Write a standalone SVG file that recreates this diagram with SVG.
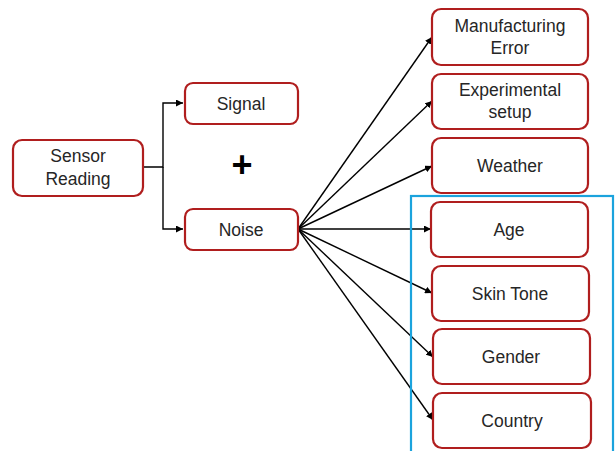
<svg xmlns="http://www.w3.org/2000/svg" width="616" height="451" viewBox="0 0 616 451">
<style>
.box{fill:#fff;stroke:#B01E1E;stroke-width:2.2}
.t{font-family:"Liberation Sans",Arial,sans-serif;font-size:17.5px;fill:#262626;text-anchor:middle}
.c{fill:none;stroke:#000;stroke-width:1.4}
</style>
<defs>
<marker id="ah" viewBox="0 0 10 10" refX="10" refY="5" markerWidth="7" markerHeight="7" markerUnits="userSpaceOnUse" orient="auto">
<path d="M0,0 L10,5 L0,10 z" fill="#000"/>
</marker>
</defs>
<rect width="616" height="451" fill="#fff"/>
<g id="connectors">
<path class="c" d="M143,167 H163 V103 H183" marker-end="url(#ah)"/>
<path class="c" d="M163,167 V229 H183" marker-end="url(#ah)"/>
<line class="c" x1="298" y1="229" x2="432" y2="37" marker-end="url(#ah)"/>
<line class="c" x1="298" y1="229" x2="432" y2="101" marker-end="url(#ah)"/>
<line class="c" x1="298" y1="229" x2="432" y2="166" marker-end="url(#ah)"/>
<line class="c" x1="298" y1="229" x2="431" y2="229" marker-end="url(#ah)"/>
<line class="c" x1="298" y1="229" x2="432" y2="293" marker-end="url(#ah)"/>
<line class="c" x1="298" y1="229" x2="433" y2="357" marker-end="url(#ah)"/>
<line class="c" x1="298" y1="229" x2="433" y2="420" marker-end="url(#ah)"/>
</g>
<g id="sensor"><rect class="box" x="13" y="140" width="130" height="56" rx="9"/><text class="t" x="78" y="162">Sensor</text><text class="t" x="78" y="185">Reading</text></g>
<g id="signal"><rect class="box" x="185" y="83" width="113" height="41" rx="8"/><text class="t" x="241" y="110">Signal</text></g>
<g id="noise"><rect class="box" x="185" y="209" width="113" height="41" rx="8"/><text class="t" x="241" y="236">Noise</text></g>
<g id="plus"><text x="242" y="177" style="font-family:'Liberation Sans',Arial,sans-serif;font-size:36px;font-weight:bold;fill:#000;text-anchor:middle">+</text></g>
<g id="manufacturing"><rect class="box" x="432" y="9" width="156" height="56" rx="9"/><text class="t" x="510" y="32">Manufacturing</text><text class="t" x="510" y="54">Error</text></g>
<g id="experimental"><rect class="box" x="432" y="74" width="156" height="55" rx="9"/><text class="t" x="510" y="96">Experimental</text><text class="t" x="510" y="118">setup</text></g>
<g id="weather"><rect class="box" x="432" y="138" width="156" height="55" rx="9"/><text class="t" x="510" y="172">Weather</text></g>
<g id="age"><rect class="box" x="431" y="202" width="157" height="55" rx="9"/><text class="t" x="509" y="236">Age</text></g>
<g id="skintone"><rect class="box" x="432" y="266" width="157" height="55" rx="9"/><text class="t" x="510" y="300">Skin Tone</text></g>
<g id="gender"><rect class="box" x="433" y="329" width="157" height="55" rx="9"/><text class="t" x="511" y="363">Gender</text></g>
<g id="country"><rect class="box" x="433" y="393" width="158" height="55" rx="9"/><text class="t" x="512" y="427">Country</text></g>
<g id="highlight"><rect x="411" y="196" width="202" height="262" fill="none" stroke="#1BA3DD" stroke-width="2.2"/></g>
</svg>
